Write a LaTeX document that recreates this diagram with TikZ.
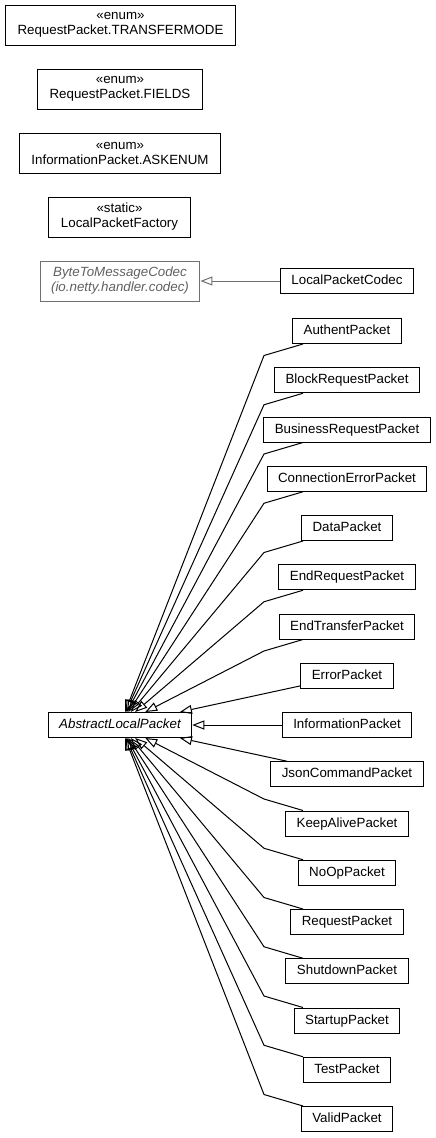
\documentclass[tikz,border=0pt]{standalone}
\usepackage{fontspec}
\setmainfont{Liberation Sans}
\usetikzlibrary{arrows.meta}
\definecolor{grtext}{HTML}{606060}
\definecolor{grline}{HTML}{707070}
\begin{document}
\begin{tikzpicture}[x=1pt,y=-1pt,
  every node/.style={font=\fontsize{13.33}{15}\selectfont},
  cls/.style={draw=black,line width=1pt,inner xsep=11pt,inner ysep=0pt,minimum height=25pt,text height=9.6pt,text depth=2.6pt},
  cls2/.style={draw=black,line width=1pt,inner xsep=12pt,inner ysep=0pt,minimum height=40pt,align=center},
  ext/.style={draw=grline,text=grtext,line width=1pt,inner xsep=11pt,inner ysep=0pt,minimum height=40pt,align=center,font=\fontsize{13.33}{15}\selectfont\itshape},
  inh/.style={draw=black,line width=1pt,-{Triangle[open,length=12pt,width=9pt]}},
  inhg/.style={draw=grline,line width=1pt,-{Triangle[open,length=12pt,width=9pt]}}
]
\useasboundingbox (0,0) rectangle (436,1138);

\node[cls2] (tm) at (120.5,25) {«enum»\\RequestPacket.TRANSFERMODE};
\node[cls2] (fi) at (120,89) {«enum»\\RequestPacket.FIELDS};
\node[cls2] (ask) at (120,153) {«enum»\\InformationPacket.ASKENUM};
\node[cls2] (fac) at (119.5,217) {«static»\\LocalPacketFactory};
\node[ext] (btm) at (120,281) {ByteToMessageCodec\\(io.netty.handler.codec)};
\node[cls] (lpc) at (347,281) {LocalPacketCodec};
\draw[inhg] (lpc) -- (btm);

\node[cls,font=\fontsize{13.33}{15}\selectfont\itshape] (abs) at (120,725) {AbstractLocalPacket};

\node[cls] (c0) at (347,331) {AuthentPacket};
\node[cls] (c1) at (347,380.25) {BlockRequestPacket};
\node[cls] (c2) at (347,429.5) {BusinessRequestPacket};
\node[cls] (c3) at (347,478.75) {ConnectionErrorPacket};
\node[cls] (c4) at (347,528) {DataPacket};
\node[cls] (c5) at (347,577.25) {EndRequestPacket};
\node[cls] (c6) at (347,626.5) {EndTransferPacket};
\node[cls] (c7) at (347,675.75) {ErrorPacket};
\node[cls] (c8) at (347,725) {InformationPacket};
\node[cls] (c9) at (347,774.25) {JsonCommandPacket};
\node[cls] (c10) at (347,823.5) {KeepAlivePacket};
\node[cls] (c11) at (347,872.75) {NoOpPacket};
\node[cls] (c12) at (347,922) {RequestPacket};
\node[cls] (c13) at (347,971.25) {ShutdownPacket};
\node[cls] (c14) at (347,1020.5) {StartupPacket};
\node[cls] (c15) at (347,1069.75) {TestPacket};
\node[cls] (c16) at (347,1119) {ValidPacket};

\foreach \i/\y in {0/331,1/380.25,2/429.5,3/478.75,4/528,5/577.25,6/626.5}{
  \coordinate (b\i) at (264,\y+24.5);
  \draw[inh] (c\i) -- (b\i) -- (abs);
}
\foreach \i/\y in {10/823.5,11/872.75,12/922,13/971.25,14/1020.5,15/1069.75,16/1119}{
  \coordinate (b\i) at (264,\y-24.5);
  \draw[inh] (c\i) -- (b\i) -- (abs);
}
\draw[inh] (c7) -- (abs);
\draw[inh] (c8) -- (abs);
\draw[inh] (c9) -- (abs);
\end{tikzpicture}
\end{document}
